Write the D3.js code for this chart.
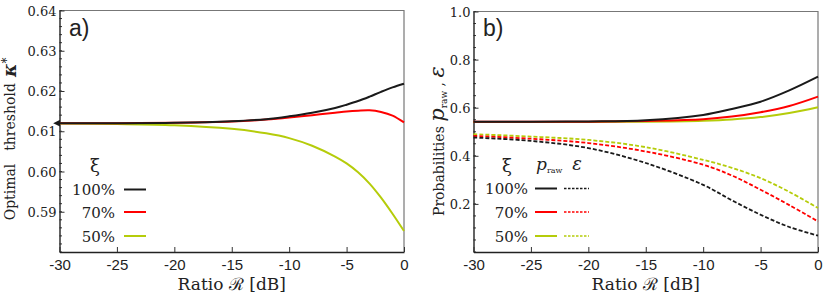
<!DOCTYPE html>
<html>
<head>
<meta charset="utf-8">
<script src="https://cdn.jsdelivr.net/npm/d3@7"></script>
<style>
  body { margin: 0; background: #fff; }
  text { font-family: "DejaVu Serif", serif; fill: #222; }
</style>
</head>
<body>
<div id="chart"></div>
<script>
// x values (ratio R in dB)
var ratioA = [-30, -25, -20, -15, -12, -10, -8, -6, -5, -4, -3, -2, -1, 0];
var ratioB = [-30, -25, -20, -15, -10, -7.5, -5, -2.5, 0];

// panel a) optimal threshold kappa*
var kappa100 = [0.6120, 0.6120, 0.6121, 0.6125, 0.6130, 0.6137, 0.6146, 0.6158, 0.6166, 0.6175, 0.6186, 0.6198, 0.6209, 0.6218];
var kappa70  = [0.6120, 0.6120, 0.6121, 0.6124, 0.6129, 0.6134, 0.6140, 0.6146, 0.6149, 0.6151, 0.6152, 0.6148, 0.6139, 0.6122];
var kappa50  = [0.6119, 0.6118, 0.6115, 0.6106, 0.6095, 0.6083, 0.6064, 0.6037, 0.6020, 0.5998, 0.5970, 0.5935, 0.5895, 0.5852];

// panel b) p_raw (solid) and epsilon (dashed)
var praw100 = [0.542, 0.542, 0.543, 0.548, 0.570, 0.595, 0.625, 0.672, 0.729];
var praw70  = [0.542, 0.542, 0.542, 0.545, 0.552, 0.563, 0.581, 0.607, 0.646];
var praw50  = [0.541, 0.541, 0.541, 0.542, 0.546, 0.551, 0.561, 0.578, 0.602];
var eps100  = [0.476, 0.462, 0.432, 0.370, 0.279, 0.215, 0.155, 0.104, 0.068];
var eps70   = [0.483, 0.471, 0.453, 0.418, 0.363, 0.318, 0.259, 0.195, 0.127];
var eps50   = [0.490, 0.480, 0.466, 0.436, 0.383, 0.350, 0.307, 0.250, 0.183];

var xTicks = [-30, -25, -20, -15, -10, -5, 0];
var yTicksA = [0.59, 0.60, 0.61, 0.62, 0.63, 0.64];
var yTicksB = [0.2, 0.4, 0.6, 0.8, 1.0];
var xiLabels = ["100%", "70%", "50%"];
var colors = ["#1a1a1a", "#ff0000", "#b5cc0a"];

var width = 831, height = 297;

var svg = d3.select("#chart").append("svg")
    .attr("width", width)
    .attr("height", height);

svg.append("defs").append("marker")
    .attr("id", "arrow")
    .attr("viewBox", "0 -5 10 10")
    .attr("refX", 1)
    .attr("refY", 0)
    .attr("markerWidth", 7)
    .attr("markerHeight", 7)
    .attr("markerUnits", "userSpaceOnUse")
    .attr("orient", "auto-start-reverse")
    .append("path")
    .attr("d", "M0,-5L10,0L0,5Z")
    .style("fill", "#1a1a1a");

function drawFrame(x, y, yTicks, yMinorStep, yFmt) {
  var x0 = x.range()[0], x1 = x.range()[1];
  var y0 = y.range()[0], y1 = y.range()[1];
  var g = svg.append("g");

  // top and right of the frame in grey
  g.append("path")
    .attr("d", "M" + x0 + "," + y1 + "H" + x1 + "V" + y0)
    .attr("fill", "none").attr("stroke", "#777").attr("stroke-width", 1.2);

  // minor ticks on the left
  var dom = y.domain();
  var minor = d3.range(dom[0], dom[1] + yMinorStep / 2, yMinorStep);
  g.selectAll("line.minor").data(minor).enter().append("line")
    .attr("x1", x0).attr("x2", x0 + 2.5)
    .attr("y1", function(d) { return y(d); })
    .attr("y2", function(d) { return y(d); })
    .attr("stroke", "#333").attr("stroke-width", 1);

  // left axis, ticks inward
  g.append("g")
    .attr("transform", "translate(" + x0 + ",0)")
    .call(d3.axisLeft(y).tickValues(yTicks).tickSizeInner(-5).tickSizeOuter(0).tickFormat(yFmt))
    .call(function(a) {
      a.select(".domain").attr("stroke", "#222").attr("stroke-width", 1.4);
      a.selectAll(".tick line").attr("stroke", "#333");
      a.selectAll(".tick text")
        .attr("x", -3)
        .attr("dy", "0.35em")
        .style("font-family", "'DejaVu Serif', serif")
        .style("font-size", "13px")
        .attr("fill", "#222");
    });

  // bottom axis, ticks inward
  g.append("g")
    .attr("transform", "translate(0," + y0 + ")")
    .call(d3.axisBottom(x).tickValues(xTicks).tickSizeInner(-5).tickSizeOuter(0)
      .tickFormat(function(d) { return String(d); }))
    .call(function(a) {
      a.select(".domain").attr("stroke", "#222").attr("stroke-width", 1.4);
      a.selectAll(".tick line").attr("stroke", "#333");
      a.selectAll(".tick text")
        .attr("y", 7)
        .style("font-family", "'Liberation Sans', Arial, sans-serif")
        .style("font-size", "15px")
        .attr("fill", "#222");
    });

  // x label
  svg.append("text")
    .attr("x", (x0 + x1) / 2)
    .attr("y", 290)
    .attr("text-anchor", "middle")
    .style("font-size", "17px")
    .text("Ratio ℛ [dB]");
}

// ---------- panel a ----------
var xA = d3.scaleLinear().domain([-30, 0]).range([59.5, 404]);
var yA = d3.scaleLinear().domain([0.58, 0.64]).range([252, 10.5]);

drawFrame(xA, yA, yTicksA, 0.002, d3.format(".2f"));

var lineA = d3.line()
  .x(function(d) { return xA(d[0]); })
  .y(function(d) { return yA(d[1]); })
  .curve(d3.curveCatmullRom.alpha(0.5));

var seriesA = [kappa50, kappa70, kappa100];
var colA = [colors[2], colors[1], colors[0]];
seriesA.forEach(function(s, i) {
  svg.append("path")
    .datum(ratioA.map(function(r, j) { return [r, s[j]]; }))
    .attr("d", lineA)
    .attr("fill", "none")
    .attr("stroke", colA[i])
    .attr("stroke-width", 2)
    .attr("marker-start", i == 2 ? "url(#arrow)" : null);
});

svg.append("text").attr("x", 69).attr("y", 36)
  .style("font-family", "'Liberation Sans', Arial, sans-serif")
  .style("font-size", "23px").attr("fill", "#111").text("a)");

// rotated y label, word by word
svg.append("text").attr("transform", "translate(15,192) rotate(-90)")
  .attr("text-anchor", "middle").style("font-size", "14px").text("Optimal");
svg.append("text").attr("transform", "translate(15,117) rotate(-90)")
  .attr("text-anchor", "middle").style("font-size", "14px").text("threshold");
var kap = svg.append("text").attr("transform", "translate(16,77) rotate(-90)");
kap.append("tspan").style("font-style", "italic").style("font-weight", "bold").style("font-size", "18px").text("κ");
kap.append("tspan").attr("dy", -5).style("font-size", "12px").text("*");

// legend a
svg.append("text").attr("x", 95).attr("y", 172).attr("text-anchor", "middle")
  .style("font-size", "18px").text("ξ");
xiLabels.forEach(function(t, i) {
  var yy = [189.5, 212, 236][i];
  svg.append("text").attr("x", 115).attr("y", yy + 5.5).attr("text-anchor", "end")
    .style("font-size", "15px").text(t);
  svg.append("line").attr("x1", 124).attr("x2", 146).attr("y1", yy).attr("y2", yy)
    .attr("stroke", colors[i]).attr("stroke-width", 2);
});

// ---------- panel b ----------
var xB = d3.scaleLinear().domain([-30, 0]).range([473.5, 818]);
var yB = d3.scaleLinear().domain([0, 1]).range([252, 11.5]);

drawFrame(xB, yB, yTicksB, 0.05, d3.format(".1f"));

var lineB = d3.line()
  .x(function(d) { return xB(d[0]); })
  .y(function(d) { return yB(d[1]); })
  .curve(d3.curveCatmullRom.alpha(0.5));

var solidB = [praw50, praw70, praw100];
var dashB = [eps50, eps70, eps100];
var colB = [colors[2], colors[1], colors[0]];

dashB.forEach(function(s, i) {
  svg.append("path")
    .datum(ratioB.map(function(r, j) { return [r, s[j]]; }))
    .attr("d", lineB)
    .attr("fill", "none")
    .attr("stroke", colB[i])
    .attr("stroke-width", 1.8)
    .attr("stroke-dasharray", "4,2");
});
solidB.forEach(function(s, i) {
  svg.append("path")
    .datum(ratioB.map(function(r, j) { return [r, s[j]]; }))
    .attr("d", lineB)
    .attr("fill", "none")
    .attr("stroke", colB[i])
    .attr("stroke-width", 2);
});

svg.append("text").attr("x", 483).attr("y", 36)
  .style("font-family", "'Liberation Sans', Arial, sans-serif")
  .style("font-size", "23px").attr("fill", "#111").text("b)");

var ylabB = svg.append("text")
  .attr("transform", "translate(444,216) rotate(-90)")
  .style("font-size", "14px")
  .style("white-space", "pre");
ylabB.append("tspan").text("Probabilities ");
ylabB.append("tspan").style("font-style", "italic").style("font-size", "21px").text("p");
ylabB.append("tspan").attr("dy", 3).style("font-size", "9px").text("raw");
ylabB.append("tspan").attr("dy", -3).text(" , ");
ylabB.append("tspan").style("font-style", "italic").style("font-size", "21px").text("ε");

// legend b
svg.append("text").attr("x", 507).attr("y", 172).attr("text-anchor", "middle")
  .style("font-size", "18px").text("ξ");
var hp = svg.append("text").attr("x", 536).attr("y", 170);
hp.append("tspan").style("font-style", "italic").style("font-size", "17px").text("p");
hp.append("tspan").attr("dy", 3).style("font-size", "8px").text("raw");
svg.append("text").attr("x", 577).attr("y", 170).attr("text-anchor", "middle")
  .style("font-style", "italic").style("font-size", "18px").text("ε");

xiLabels.forEach(function(t, i) {
  var yy = [188.5, 212, 236][i];
  svg.append("text").attr("x", 528).attr("y", yy + 5.5).attr("text-anchor", "end")
    .style("font-size", "15px").text(t);
  svg.append("line").attr("x1", 535).attr("x2", 557).attr("y1", yy).attr("y2", yy)
    .attr("stroke", colors[i]).attr("stroke-width", 2);
  svg.append("line").attr("x1", 564).attr("x2", 589).attr("y1", yy).attr("y2", yy)
    .attr("stroke", colors[i]).attr("stroke-width", 1.6)
    .attr("stroke-dasharray", "2.5,1.5");
});
</script>
</body>
</html>
